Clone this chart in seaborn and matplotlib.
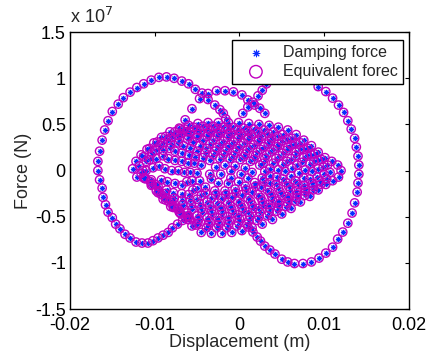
import numpy as np
import seaborn as sns
import matplotlib
matplotlib.use('Agg')
from matplotlib import pyplot as plt
from matplotlib.ticker import FuncFormatter

# displacement in mm, force in units of 1e7 N
left_loop = [(-6.0, -0.49), (-6.7, -0.54), (-7.3, -0.58), (-7.9, -0.62), (-8.4, -0.67), (-9.0, -0.70),
             (-9.6, -0.73), (-10.2, -0.76), (-10.8, -0.785), (-11.5, -0.785), (-12.2, -0.774), (-12.9, -0.73),
             (-13.5, -0.69), (-14.1, -0.63), (-14.6, -0.58), (-15.0, -0.51), (-15.5, -0.45), (-15.8, -0.37),
             (-16.1, -0.29), (-16.2, -0.19), (-16.5, -0.10), (-16.7, 0.0), (-16.7, 0.10), (-16.5, 0.21),
             (-16.2, 0.33), (-15.9, 0.44), (-15.5, 0.54), (-15.0, 0.64), (-14.3, 0.72), (-13.7, 0.79),
             (-12.9, 0.85), (-12.1, 0.90), (-11.3, 0.94), (-10.4, 0.98), (-9.5, 1.01), (-8.6, 1.015),
             (-7.7, 1.0), (-6.8, 0.97), (-6.0, 0.94), (-5.2, 0.88), (-4.4, 0.84), (-3.7, 0.77),
             (-2.9, 0.71), (-2.3, 0.66), (-1.9, 0.62), (-1.6, 0.56)]

mid_arc = [(-7.0, 0.45), (-6.4, 0.55), (-5.6, 0.67), (-4.7, 0.78), (-3.7, 0.835), (-2.7, 0.865),
           (-1.7, 0.865), (-0.7, 0.853), (0.3, 0.82), (1.0, 0.765), (1.8, 0.71), (2.4, 0.675), (3.0, 0.62)]

right_loop = [(0.4, 0.62), (1.0, 0.69), (1.6, 0.74), (2.2, 0.81), (2.7, 0.87), (3.2, 0.94), (4.0, 0.98),
              (4.9, 1.01), (6.0, 1.02), (7.0, 1.01), (8.1, 0.98), (9.3, 0.91), (10.2, 0.856), (11.0, 0.785),
              (11.7, 0.71), (12.3, 0.63), (12.8, 0.54), (13.2, 0.45), (13.6, 0.35), (13.8, 0.255),
              (14.0, 0.157), (14.1, 0.06), (14.1, -0.04), (14.0, -0.135), (13.9, -0.233), (13.6, -0.35),
              (13.3, -0.46), (12.8, -0.57), (12.2, -0.666), (11.6, -0.742), (11.0, -0.83), (10.2, -0.894),
              (9.4, -0.948), (8.5, -0.99), (7.5, -1.007), (6.5, -1.007), (5.7, -0.99), (5.0, -0.96),
              (4.2, -0.904), (3.6, -0.861), (3.0, -0.818), (2.5, -0.764), (2.1, -0.72), (1.6, -0.666),
              (1.0, -0.61)]

# dense central part, ring by ring from outside to inside
loop_a = [(-12.6, 0.02), (-12.2, 0.10), (-11.6, 0.17), (-10.9, 0.23), (-10.1, 0.30), (-9.2, 0.36),
          (-8.2, 0.42), (-7.1, 0.46), (-6.0, 0.49), (-4.9, 0.51), (-3.7, 0.52), (-2.5, 0.52),
          (-1.3, 0.52), (-0.1, 0.52), (1.1, 0.51), (2.3, 0.50), (3.5, 0.49), (4.6, 0.47), (5.7, 0.44),
          (6.7, 0.39), (7.6, 0.33), (8.5, 0.27), (9.3, 0.20), (10.1, 0.14), (10.9, 0.10), (11.6, 0.06),
          (12.0, 0.0), (11.7, -0.07), (11.0, -0.11), (10.2, -0.15), (9.3, -0.21), (8.3, -0.28),
          (7.2, -0.34), (6.1, -0.41), (5.0, -0.47), (3.9, -0.53), (2.7, -0.58), (1.5, -0.62),
          (0.3, -0.65), (-0.9, -0.67), (-2.1, -0.68), (-3.3, -0.68), (-4.5, -0.67), (-5.6, -0.60),
          (-6.4, -0.51), (-7.2, -0.42), (-8.0, -0.33), (-8.8, -0.25), (-9.6, -0.17), (-10.4, -0.10),
          (-11.3, -0.08), (-12.1, -0.07)]

loop_a2 = [(-11.8, 0.05), (-11.3, 0.15), (-10.6, 0.24), (-9.7, 0.31), (-8.7, 0.37), (-7.6, 0.42),
           (-6.5, 0.45), (-5.4, 0.47), (-4.3, 0.48), (-3.1, 0.48), (-1.9, 0.47), (-0.7, 0.47), (0.5, 0.46),
           (1.7, 0.45), (2.9, 0.44), (4.0, 0.42), (5.1, 0.39), (6.2, 0.35), (7.2, 0.30), (8.1, 0.24),
           (8.9, 0.18), (9.7, 0.12), (10.4, 0.06), (10.7, -0.02), (10.3, -0.09), (9.6, -0.15), (8.7, -0.21),
           (7.7, -0.27), (6.6, -0.33), (5.5, -0.39), (4.4, -0.44), (3.3, -0.49), (2.1, -0.54), (0.9, -0.58),
           (-0.3, -0.60), (-1.5, -0.62), (-2.7, -0.62), (-3.9, -0.62), (-5.1, -0.59), (-6.1, -0.53),
           (-7.0, -0.46), (-7.8, -0.38), (-8.6, -0.30), (-9.5, -0.22), (-10.3, -0.15), (-11.1, -0.09),
           (-11.6, -0.03)]

loop_a3 = [(-11.4, 0.0), (-11.0, 0.10), (-10.3, 0.19), (-9.4, 0.27), (-8.4, 0.33), (-7.3, 0.38),
           (-6.2, 0.42), (-5.0, 0.44), (-3.8, 0.455), (-2.6, 0.455), (-1.4, 0.45), (-0.2, 0.44),
           (1.0, 0.43), (2.2, 0.42), (3.4, 0.40), (4.5, 0.37), (5.6, 0.34), (6.6, 0.29), (7.6, 0.23),
           (8.5, 0.17), (9.3, 0.11), (9.9, 0.04), (10.0, -0.04), (9.5, -0.11), (8.7, -0.17), (7.8, -0.23),
           (6.8, -0.29), (5.7, -0.35), (4.6, -0.40), (3.5, -0.45), (2.3, -0.50), (1.1, -0.54),
           (-0.1, -0.56), (-1.3, -0.58), (-2.5, -0.585), (-3.7, -0.585), (-4.9, -0.57), (-5.9, -0.53),
           (-6.9, -0.47), (-7.8, -0.40), (-8.7, -0.32), (-9.6, -0.24), (-10.4, -0.16), (-11.1, -0.08)]

loop_b = [(-11.0, 0.0), (-10.6, 0.12), (-9.9, 0.22), (-9.0, 0.30), (-8.0, 0.36), (-6.9, 0.40),
          (-5.8, 0.42), (-4.6, 0.43), (-3.4, 0.43), (-2.2, 0.42), (-1.0, 0.41), (0.2, 0.40), (1.4, 0.39),
          (2.6, 0.37), (3.8, 0.35), (5.0, 0.32), (6.1, 0.28), (7.1, 0.23), (8.0, 0.17), (8.8, 0.10),
          (9.3, 0.02), (9.2, -0.07), (8.6, -0.14), (7.8, -0.20), (6.8, -0.26), (5.8, -0.31), (4.7, -0.36),
          (3.6, -0.41), (2.4, -0.45), (1.2, -0.49), (0.0, -0.52), (-1.2, -0.54), (-2.4, -0.55),
          (-3.6, -0.55), (-4.8, -0.53), (-6.0, -0.50), (-7.1, -0.45), (-8.1, -0.39), (-9.0, -0.31),
          (-9.8, -0.22), (-10.5, -0.12)]

loop_b2 = [(-10.2, 0.03), (-9.8, 0.13), (-9.0, 0.22), (-8.1, 0.29), (-7.1, 0.34), (-6.0, 0.37),
           (-4.9, 0.39), (-3.7, 0.40), (-2.5, 0.40), (-1.3, 0.39), (-0.1, 0.38), (1.1, 0.36), (2.3, 0.34),
           (3.5, 0.32), (4.6, 0.29), (5.7, 0.25), (6.7, 0.20), (7.6, 0.14), (8.3, 0.07), (8.6, -0.01),
           (8.3, -0.09), (7.6, -0.16), (6.7, -0.22), (5.6, -0.28), (4.5, -0.33), (3.4, -0.37), (2.2, -0.41),
           (1.0, -0.45), (-0.2, -0.48), (-1.4, -0.50), (-2.6, -0.51), (-3.8, -0.51), (-5.0, -0.49),
           (-6.2, -0.46), (-7.3, -0.41), (-8.3, -0.34), (-9.2, -0.26), (-9.9, -0.15)]

loop_c = [(-9.5, 0.05), (-9.0, 0.16), (-8.2, 0.24), (-7.2, 0.30), (-6.1, 0.34), (-5.0, 0.36),
          (-3.8, 0.37), (-2.6, 0.37), (-1.4, 0.36), (-0.2, 0.35), (1.0, 0.34), (2.2, 0.32), (3.4, 0.29),
          (4.5, 0.26), (5.6, 0.22), (6.6, 0.16), (7.4, 0.09), (7.8, 0.01), (7.6, -0.08), (6.9, -0.15),
          (6.0, -0.21), (5.0, -0.27), (3.9, -0.32), (2.8, -0.37), (1.6, -0.41), (0.4, -0.44),
          (-0.8, -0.46), (-2.0, -0.47), (-3.2, -0.47), (-4.4, -0.45), (-5.6, -0.42), (-6.7, -0.37),
          (-7.7, -0.30), (-8.6, -0.21), (-9.2, -0.10)]

loop_c2 = [(-8.8, 0.02), (-8.4, 0.13), (-7.6, 0.21), (-6.6, 0.27), (-5.5, 0.31), (-4.3, 0.33),
           (-3.1, 0.33), (-1.9, 0.32), (-0.7, 0.31), (0.5, 0.30), (1.7, 0.28), (2.9, 0.26), (4.0, 0.23),
           (5.1, 0.19), (6.1, 0.13), (6.8, 0.06), (7.0, -0.03), (6.6, -0.11), (5.8, -0.17), (4.8, -0.23),
           (3.8, -0.28), (2.7, -0.33), (1.5, -0.37), (0.3, -0.40), (-0.9, -0.42), (-2.1, -0.43),
           (-3.3, -0.43), (-4.5, -0.41), (-5.7, -0.37), (-6.8, -0.32), (-7.8, -0.24), (-8.5, -0.12)]

loop_d = [(-8.0, 0.0), (-7.6, 0.11), (-6.8, 0.19), (-5.8, 0.24), (-4.7, 0.27), (-3.5, 0.29),
          (-2.3, 0.29), (-1.1, 0.28), (0.1, 0.27), (1.3, 0.25), (2.5, 0.23), (3.6, 0.20), (4.7, 0.16),
          (5.6, 0.10), (6.2, 0.03), (6.1, -0.06), (5.5, -0.13), (4.6, -0.19), (3.6, -0.24), (2.5, -0.29),
          (1.3, -0.33), (0.1, -0.36), (-1.1, -0.38), (-2.3, -0.39), (-3.5, -0.38), (-4.7, -0.36),
          (-5.8, -0.32), (-6.8, -0.25), (-7.6, -0.14)]

loop_d2 = [(-7.2, 0.0), (-6.8, 0.10), (-6.0, 0.17), (-5.0, 0.21), (-3.9, 0.24), (-2.7, 0.25),
           (-1.5, 0.25), (-0.3, 0.24), (0.9, 0.22), (2.1, 0.20), (3.2, 0.17), (4.3, 0.13), (5.1, 0.07),
           (5.4, -0.01), (5.1, -0.09), (4.3, -0.15), (3.3, -0.21), (2.2, -0.26), (1.0, -0.30),
           (-0.2, -0.33), (-1.4, -0.34), (-2.6, -0.35), (-3.8, -0.34), (-5.0, -0.31), (-6.0, -0.26),
           (-6.8, -0.16)]

loop_e = [(-6.5, -0.02), (-6.1, 0.08), (-5.2, 0.15), (-4.1, 0.19), (-2.9, 0.21), (-1.7, 0.21),
          (-0.5, 0.20), (0.7, 0.18), (1.9, 0.16), (3.0, 0.13), (4.0, 0.08), (4.6, 0.01), (4.4, -0.07),
          (3.6, -0.13), (2.6, -0.18), (1.5, -0.23), (0.3, -0.26), (-0.9, -0.29), (-2.1, -0.30),
          (-3.3, -0.30), (-4.5, -0.27), (-5.5, -0.21), (-6.2, -0.12)]

loop_e2 = [(-5.8, -0.02), (-5.3, 0.08), (-4.3, 0.14), (-3.1, 0.17), (-1.9, 0.17), (-0.7, 0.16),
           (0.5, 0.15), (1.7, 0.12), (2.8, 0.08), (3.6, 0.02), (3.6, -0.06), (2.9, -0.12), (1.9, -0.17),
           (0.8, -0.21), (-0.4, -0.24), (-1.6, -0.26), (-2.8, -0.26), (-4.0, -0.24), (-5.0, -0.19),
           (-5.6, -0.11)]

loop_f = [(-5.0, -0.03), (-4.5, 0.06), (-3.5, 0.11), (-2.3, 0.13), (-1.1, 0.13), (0.1, 0.12),
          (1.3, 0.10), (2.4, 0.06), (3.0, -0.01), (2.7, -0.08), (1.8, -0.13), (0.7, -0.17),
          (-0.5, -0.20), (-1.7, -0.22), (-2.9, -0.22), (-4.0, -0.18), (-4.7, -0.11)]

loop_g = [(-3.5, -0.04), (-2.8, 0.04), (-1.7, 0.06), (-0.5, 0.05), (0.7, 0.03), (1.5, -0.02),
          (1.0, -0.08), (-0.1, -0.12), (-1.3, -0.14), (-2.5, -0.13), (-3.3, -0.09)]

loop_h = [(-2.2, -0.04), (-1.0, 0.0), (0.2, -0.04), (-1.0, -0.08)]

segments = [left_loop, mid_arc, right_loop, loop_a, loop_a2, loop_a3, loop_b, loop_b2, loop_c,
            loop_c2, loop_d, loop_d2, loop_e, loop_e2, loop_f, loop_g, loop_h]

pts = np.array([p for seg in segments for p in seg])
disp = pts[:, 0] / 1000.0   # m
force = pts[:, 1]           # x 1e7 N

BLUE = '#0a2cff'
MAG = '#c000c0'

sns.set_style('white')
plt.rcParams['font.family'] = ['Liberation Sans', 'DejaVu Sans']

fig = plt.figure(figsize=(4.29, 3.61), dpi=100)
ax = fig.add_axes([0.163, 0.144, 0.790, 0.767])

sns.scatterplot(x=disp, y=force, ax=ax, marker=(8, 2, 0), color=BLUE, s=10,
                linewidth=0.75, label='Damping force', zorder=2)
sns.scatterplot(x=disp, y=force, ax=ax, marker='o', s=36, facecolors='none',
                edgecolors=MAG, linewidths=1.0, label='Equivalent forec', zorder=3)

ax.set_xlim(-0.02, 0.02)
ax.set_ylim(-1.5, 1.5)
ax.set_xticks([-0.02, -0.01, 0, 0.01, 0.02])
ax.set_yticks([-1.5, -1, -0.5, 0, 0.5, 1, 1.5])
fmt = FuncFormatter(lambda v, p: '%g' % round(v, 4))
ax.xaxis.set_major_formatter(fmt)
ax.yaxis.set_major_formatter(fmt)
ax.tick_params(direction='in', length=3, width=0.8, top=True, right=True,
               labelsize=13, colors='black', pad=3)
ax.tick_params(axis='x', pad=6)
for sp in ax.spines.values():
    sp.set_color('black')
    sp.set_linewidth(1.0)

ax.set_xlabel('Displacement (m)', fontsize=13, labelpad=0)
ax.set_ylabel('Force (N)', fontsize=13, labelpad=2)
ax.text(0.0, 1.02, r'x 10$^{7}$', transform=ax.transAxes, fontsize=13, ha='left', va='bottom')

leg = ax.legend(loc='upper right', bbox_to_anchor=(0.982, 0.971), borderaxespad=0,
                fontsize=11.5, frameon=True, fancybox=False, framealpha=1,
                edgecolor='black', handlelength=2.4, handletextpad=0.5, borderpad=0.3,
                labelspacing=0.25, markerscale=1.5)
leg.get_frame().set_linewidth(1.0)
leg.set_zorder(5)

fig.savefig('out.png', dpi=100)
